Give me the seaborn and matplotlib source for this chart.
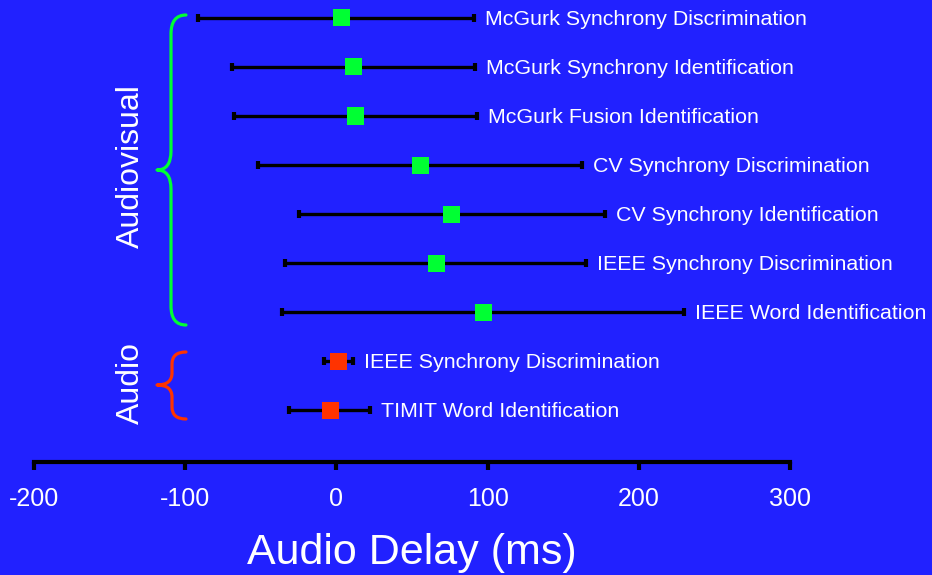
import numpy as np
import pandas as pd
import matplotlib
matplotlib.use("Agg")
import matplotlib.pyplot as plt
from matplotlib.path import Path
from matplotlib.patches import PathPatch
import seaborn as sns

# ---- data ----
tasks = [
    "McGurk Synchrony Discrimination",
    "McGurk Synchrony Identification",
    "McGurk Fusion Identification",
    "CV Synchrony Discrimination",
    "CV Synchrony Identification",
    "IEEE Synchrony Discrimination",
    "IEEE Word Identification",
    "IEEE Synchrony Discrimination",
    "TIMIT Word Identification",
]
modality = ["Audiovisual"] * 7 + ["Audio"] * 2
center = [3.5, 11.6, 12.8, 55.3, 76.3, 65.9, 97.0, 1.5, -4.2]
low = [-91.5, -69.0, -67.7, -51.9, -24.9, -34.0, -36.2, -8.2, -31.3]
high = [91.0, 91.7, 93.0, 162.4, 177.6, 165.1, 229.9, 10.8, 22.2]
xticks = [-200, -100, 0, 100, 200, 300]
group_labels = ["Audiovisual", "Audio"]

BG = "#2121FF"
GREEN = "#00FF33"
RED = "#FF3300"

df = pd.DataFrame({
    "task": tasks,
    "modality": modality,
    "delay": center,
    "low": low,
    "high": high,
    "row": np.arange(len(tasks)),
})

sns.set_theme(style="white")
plt.rcParams["font.family"] = ["Liberation Sans", "DejaVu Sans"]

W, H = 932, 575
fig = plt.figure(figsize=(W / 100, H / 100), dpi=100, facecolor=BG)
ax = fig.add_axes([34 / W, 1 - 462 / H, 756 / W, 462 / H])
ax.set_facecolor(BG)

# error bars
ax.errorbar(df["delay"], df["row"],
            xerr=[df["delay"] - df["low"], df["high"] - df["delay"]],
            fmt="none", ecolor="black", elinewidth=2.4,
            capsize=2.8, capthick=3.0, zorder=2)

# square markers
sns.scatterplot(data=df, x="delay", y="row", hue="modality",
                palette={"Audiovisual": GREEN, "Audio": RED},
                marker="s", s=150, edgecolor="none", legend=False,
                zorder=3, ax=ax)

# labels to the right of each bar
for _, r in df.iterrows():
    ax.annotate(r["task"], xy=(r["high"], r["row"]), xytext=(8, -1.3),
                textcoords="offset points", va="center", ha="left",
                color="white", fontsize=15.4, annotation_clip=False)

ax.set_xlim(-200, 300)
ax.set_ylim(9.06, -0.367)
ax.set_xticks(xticks)
ax.set_xticklabels([str(t) for t in xticks])
ax.set_yticks([])
ax.set_ylabel("")
for s in ["left", "top", "right"]:
    ax.spines[s].set_visible(False)
ax.spines["bottom"].set_color("black")
ax.spines["bottom"].set_linewidth(3)
ax.tick_params(axis="x", direction="out", length=6, width=3, color="black",
               labelcolor="white", labelsize=18, pad=12, bottom=True)
ax.set_xlabel("Audio Delay (ms)", color="white", fontsize=31)
ax.xaxis.label.set_va("center")
ax.xaxis.set_label_coords(0.5, (462 - 553) / 462)


# curly braces (figure pixel coordinates)
def fp(px, py):
    return (px / W, 1 - py / H)


def brace(x1, xm, x0, ytop, ymid, ybot, r, color):
    pts = [
        (x1, ytop), (xm, ytop), (xm, ytop + r),
        (xm, ymid - r), (xm, ymid), (x0, ymid),
        (xm, ymid), (xm, ymid + r),
        (xm, ybot - r), (xm, ybot), (x1, ybot),
    ]
    codes = [Path.MOVETO, Path.CURVE3, Path.CURVE3,
             Path.LINETO, Path.CURVE3, Path.CURVE3,
             Path.CURVE3, Path.CURVE3,
             Path.LINETO, Path.CURVE3, Path.CURVE3]
    path = Path([fp(*p) for p in pts], codes)
    fig.add_artist(PathPatch(path, transform=fig.transFigure, fill=False,
                             edgecolor=color, linewidth=2.3,
                             capstyle="round", joinstyle="round"))


brace(186, 171, 157, 15, 170, 325, 19, GREEN)
brace(186, 172, 157, 352, 385, 419, 12, RED)

fig.text(*fp(131, 166), group_labels[0], rotation=90, ha="center",
         va="center", color="white", fontsize=23)
fig.text(*fp(131, 383), group_labels[1], rotation=90, ha="center",
         va="center", color="white", fontsize=23)

fig.savefig("out.png", dpi=100, facecolor=BG)
